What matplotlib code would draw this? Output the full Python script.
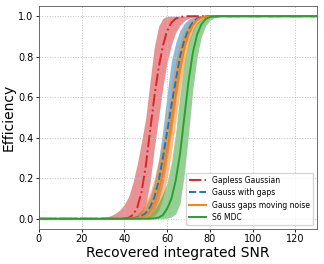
import matplotlib
matplotlib.use("Agg")
import matplotlib.pyplot as plt
import numpy as np

# SNR grid and efficiency curves (middle line, upper and lower band edge)
snr = [0, 28, 30, 32, 34, 36, 38, 40, 42, 44, 46, 48, 50, 52, 54, 56,
       58, 60, 62, 64, 66, 68, 70, 72, 74, 76, 78, 80, 82, 84, 86, 130]

gapless_mid = [0, 0, 0, 0, 0, 0, 0.0002, 0.001, 0.005, 0.019, 0.055, 0.131, 0.261, 0.434, 0.603, 0.745,
               0.855, 0.928, 0.969, 0.988, 0.996, 0.999, 1, 1, 1, 1, 1, 1, 1, 1, 1, 1]
gapless_hi = [0, 0.003, 0.006, 0.01, 0.017, 0.028, 0.045, 0.072, 0.11, 0.18, 0.27, 0.38, 0.5, 0.68, 0.85, 0.95,
              0.99, 1, 1, 1, 1, 1, 1, 1, 1, 1, 1, 1, 1, 1, 1, 1]
gapless_lo = [0, 0, 0, 0, 0, 0, 0, 0.001, 0.002, 0.005, 0.01, 0.025, 0.07, 0.18, 0.35, 0.5,
              0.65, 0.775, 0.86, 0.92, 0.955, 0.978, 0.99, 0.995, 0.998, 1, 1, 1, 1, 1, 1, 1]

gaps_mid = [0, 0, 0, 0, 0, 0, 0, 0.0005, 0.001, 0.003, 0.006, 0.013, 0.028, 0.057, 0.105, 0.185,
            0.3, 0.43, 0.56, 0.68, 0.8, 0.88, 0.935, 0.97, 0.988, 0.996, 0.999, 1, 1, 1, 1, 1]
gaps_hi = [0, 0, 0, 0, 0, 0.0005, 0.001, 0.002, 0.004, 0.009, 0.018, 0.035, 0.065, 0.11, 0.18, 0.29,
           0.44, 0.62, 0.78, 0.87, 0.93, 0.965, 0.985, 0.995, 1, 1, 1, 1, 1, 1, 1, 1]
gaps_lo = [0, 0, 0, 0, 0, 0, 0, 0, 0, 0, 0, 0.004, 0.01, 0.022, 0.045, 0.09,
           0.17, 0.29, 0.43, 0.58, 0.72, 0.83, 0.91, 0.955, 0.98, 0.992, 0.997, 1, 1, 1, 1, 1]

moving_mid = [0, 0, 0, 0, 0, 0, 0, 0, 0, 0.001, 0.003, 0.007, 0.016, 0.037, 0.075, 0.14,
              0.23, 0.34, 0.47, 0.62, 0.74, 0.845, 0.91, 0.955, 0.982, 0.993, 0.998, 1, 1, 1, 1, 1]
moving_hi = [0, 0, 0, 0, 0, 0.001, 0.002, 0.003, 0.006, 0.012, 0.024, 0.045, 0.08, 0.13, 0.2, 0.29,
             0.38, 0.5, 0.65, 0.78, 0.87, 0.93, 0.965, 0.985, 0.995, 1, 1, 1, 1, 1, 1, 1]
moving_lo = [0, 0, 0, 0, 0, 0, 0, 0, 0, 0, 0, 0.001, 0.003, 0.006, 0.015, 0.04,
             0.1, 0.2, 0.33, 0.48, 0.63, 0.76, 0.86, 0.925, 0.962, 0.982, 0.992, 0.997, 1, 1, 1, 1]

s6_mid = [0, 0, 0, 0, 0, 0, 0, 0, 0, 0, 0, 0, 0, 0.0005, 0.002, 0.006,
          0.018, 0.05, 0.1, 0.19, 0.32, 0.5, 0.68, 0.82, 0.91, 0.96, 0.986, 0.996, 0.999, 1, 1, 1]
s6_hi = [0, 0, 0, 0, 0, 0, 0, 0, 0, 0, 0.002, 0.004, 0.01, 0.022, 0.045, 0.08,
         0.125, 0.18, 0.28, 0.43, 0.62, 0.77, 0.87, 0.935, 0.97, 0.988, 0.996, 1, 1, 1, 1, 1]
s6_lo = [0, 0, 0, 0, 0, 0, 0, 0, 0, 0, 0, 0, 0, 0, 0, 0.0005,
         0.001, 0.003, 0.009, 0.025, 0.075, 0.22, 0.42, 0.64, 0.8, 0.9, 0.953, 0.98, 0.992, 0.997, 1, 1]

labels = ['Gapless Gaussian', 'Gauss with gaps', 'Gauss gaps moving noise', 'S6 MDC']
colors = ['#d62728', '#1f77b4', '#ff7f0e', '#2ca02c']
styles = ['-.', '--', '-', '-']

curves = [(gapless_mid, gapless_lo, gapless_hi),
          (gaps_mid, gaps_lo, gaps_hi),
          (moving_mid, moving_lo, moving_hi),
          (s6_mid, s6_lo, s6_hi)]

fig = plt.figure(figsize=(3.24, 2.64), dpi=100)
ax = fig.add_axes([0.12, 0.133, 0.858, 0.844])

x = np.array(snr)
for (mid, lo, hi), lab, c, ls in zip(curves, labels, colors, styles):
    ax.plot(x, mid, ls, color=c, lw=1.4, label=lab)
    ax.fill_between(x, lo, hi, color=c, alpha=0.5, lw=0)

ax.set_xlim(0, 130)
ax.set_ylim(-0.05, 1.05)
ax.set_xticks(np.arange(0, 121, 20))
ax.set_yticks([0.0, 0.2, 0.4, 0.6, 0.8, 1.0])
ax.grid(True, ls=':', color='#c0c0c0', lw=0.7)
ax.tick_params(labelsize=7, length=2.5, width=0.6, pad=1.5)
for sp in ax.spines.values():
    sp.set_linewidth(0.6)
    sp.set_color('#555555')

ax.set_xlabel('Recovered integrated SNR', fontsize=10, labelpad=1)
ax.set_ylabel('Efficiency', fontsize=10, labelpad=2)
ax.legend(loc='lower right', fontsize=5.5, handlelength=2.2, borderpad=0.4,
          labelspacing=0.45, handletextpad=0.8, framealpha=0.8)

fig.savefig('out.png', dpi=100)
